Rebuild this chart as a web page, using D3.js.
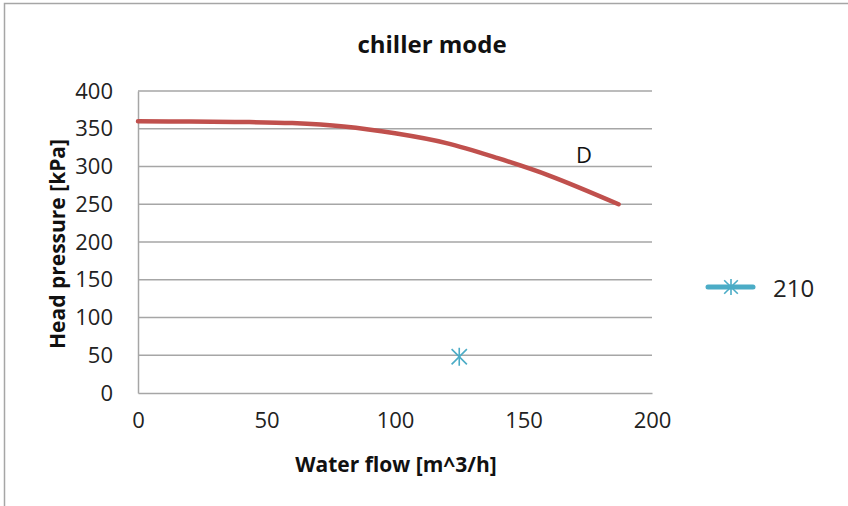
<!DOCTYPE html>
<html>
<head>
<meta charset="utf-8">
<script src="https://cdn.jsdelivr.net/npm/d3@7"></script>
<style>
  body { margin: 0; background: #fff; }
  svg { display: block; font-family: "Open Sans", "Noto Sans", sans-serif; }
</style>
</head>
<body>
<div id="chart"></div>
<script>
// curve D
var flowD = [0, 20, 40, 60, 80, 100, 120, 140, 160, 187];
var headD = [360, 359.5, 359, 357.5, 353, 344, 331, 311, 288, 250];
// single point of series 210
var flow210 = [125];
var head210 = [48];
var xTicks = [0, 50, 100, 150, 200];
var yTicks = [0, 50, 100, 150, 200, 250, 300, 350, 400];

var width = 848, height = 506;
var svg = d3.select("#chart").append("svg")
    .attr("width", width)
    .attr("height", height);

// outer chart frame
svg.append("rect")
    .attr("x", 4.5).attr("y", 3.5)
    .attr("width", 900).attr("height", 600)
    .attr("fill", "none")
    .attr("stroke", "#a6a6a6")
    .attr("stroke-width", 1.5);

var x = d3.scaleLinear().domain([0, 200]).range([138, 652]);
var y = d3.scaleLinear().domain([0, 400]).range([393, 91]);

// gridlines
svg.append("g").selectAll("line")
    .data(yTicks.slice(1)).enter()
    .append("line")
    .attr("x1", x(0)).attr("x2", x(200))
    .attr("y1", function (d) { return y(d); })
    .attr("y2", function (d) { return y(d); })
    .attr("stroke", "#a6a6a6")
    .attr("stroke-width", 1.5);

// axes
var xAxis = svg.append("g")
    .attr("transform", "translate(0," + y(0) + ")")
    .call(d3.axisBottom(x).tickValues(xTicks).tickSize(0).tickPadding(19));
var yAxis = svg.append("g")
    .attr("transform", "translate(" + x(0) + ",0)")
    .call(d3.axisLeft(y).tickValues(yTicks).tickSize(0).tickPadding(25));
[xAxis, yAxis].forEach(function (a) {
    a.select(".domain").attr("stroke", "#a6a6a6").attr("stroke-width", 1.5);
    a.selectAll("text").attr("font-size", 22).attr("fill", "#222")
        .attr("font-family", "'Open Sans', sans-serif");
});

// curve D
var pts = flowD.map(function (f, i) { return [f, headD[i]]; });
var line = d3.line()
    .x(function (d) { return x(d[0]); })
    .y(function (d) { return y(d[1]); })
    .curve(d3.curveCatmullRom);
svg.append("path")
    .datum(pts)
    .attr("d", line)
    .attr("fill", "none")
    .attr("stroke", "#c0504d")
    .attr("stroke-width", 4.5)
    .attr("stroke-linecap", "round");

svg.append("text")
    .attr("x", 584).attr("y", 163)
    .attr("text-anchor", "middle")
    .attr("font-size", 22)
    .attr("fill", "#111")
    .text("D");

// star marker
function star(g, cx, cy, r) {
    var s = g.append("g").attr("transform", "translate(" + cx + "," + cy + ")")
        .attr("stroke", "#4bacc6").attr("stroke-width", 1.6);
    s.append("line").attr("x1", 0).attr("x2", 0).attr("y1", -r).attr("y2", r);
    s.append("line").attr("x1", -r * 0.85).attr("x2", r * 0.85).attr("y1", -r * 0.85).attr("y2", r * 0.85);
    s.append("line").attr("x1", -r * 0.85).attr("x2", r * 0.85).attr("y1", r * 0.85).attr("y2", -r * 0.85);
}
flow210.forEach(function (f, i) {
    star(svg, x(f), y(head210[i]), 9);
});

// legend
svg.append("line")
    .attr("x1", 708).attr("x2", 753)
    .attr("y1", 287).attr("y2", 287)
    .attr("stroke", "#4bacc6")
    .attr("stroke-width", 5)
    .attr("stroke-linecap", "round");
star(svg, 731, 287, 8);
svg.append("text")
    .attr("x", 773).attr("y", 297)
    .attr("font-size", 24)
    .attr("fill", "#222")
    .text("210");

// titles
svg.append("text")
    .attr("x", 432).attr("y", 53)
    .attr("text-anchor", "middle")
    .attr("font-size", 24).attr("font-weight", "bold")
    .attr("fill", "#111")
    .text("chiller mode");
svg.append("text")
    .attr("x", 396).attr("y", 472)
    .attr("text-anchor", "middle")
    .attr("font-size", 21).attr("font-weight", "bold")
    .attr("fill", "#111")
    .text("Water flow [m^3/h]");
svg.append("text")
    .attr("transform", "translate(65,244) rotate(-90)")
    .attr("text-anchor", "middle")
    .attr("font-size", 21).attr("font-weight", "bold")
    .attr("fill", "#111")
    .text("Head pressure [kPa]");
</script>
</body>
</html>
